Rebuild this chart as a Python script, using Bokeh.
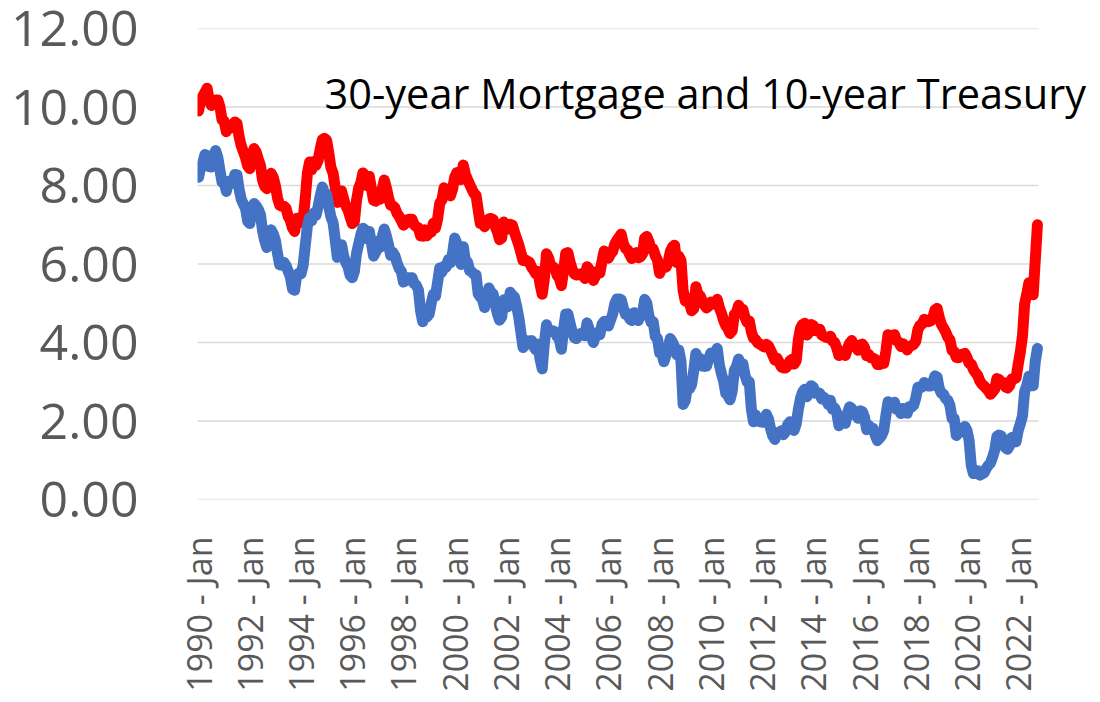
from bokeh.plotting import figure
from bokeh.models import Range1d, FixedTicker, Label, NumeralTickFormatter
from bokeh.embed import file_html
from bokeh.resources import INLINE
import math

# Monthly values, Jan 1990 - Oct 2022
mortgage_30y = [
    9.90, 10.20, 10.27, 10.37, 10.48, 10.16, 10.04, 10.10, 10.18, 10.18, 10.01, 9.67,
    9.64, 9.37, 9.50, 9.49, 9.47, 9.62, 9.58, 9.24, 9.01, 8.86, 8.71, 8.50,
    8.43, 8.76, 8.94, 8.85, 8.67, 8.51, 8.13, 7.98, 7.92, 8.09, 8.31, 8.21,
    7.99, 7.68, 7.50, 7.47, 7.47, 7.42, 7.21, 7.11, 6.92, 6.83, 7.16, 7.17,
    7.06, 7.15, 7.68, 8.32, 8.60, 8.40, 8.61, 8.51, 8.64, 8.93, 9.17, 9.20,
    9.15, 8.83, 8.46, 8.32, 7.96, 7.57, 7.61, 7.86, 7.64, 7.48, 7.38, 7.20,
    7.03, 7.08, 7.62, 7.93, 8.07, 8.32, 8.25, 8.00, 8.23, 7.92, 7.62, 7.60,
    7.82, 7.65, 7.90, 8.14, 7.94, 7.69, 7.50, 7.48, 7.43, 7.29, 7.21, 7.10,
    6.99, 7.04, 7.13, 7.14, 7.14, 7.00, 6.95, 6.92, 6.72, 6.71, 6.87, 6.72,
    6.79, 6.81, 7.04, 6.92, 7.15, 7.55, 7.63, 7.94, 7.82, 7.85, 7.74, 7.91,
    8.21, 8.33, 8.24, 8.15, 8.52, 8.29, 8.15, 8.03, 7.91, 7.80, 7.75, 7.38,
    7.03, 7.05, 6.95, 7.08, 7.15, 7.16, 7.13, 6.95, 6.82, 6.62, 6.66, 7.07,
    7.00, 6.89, 7.01, 6.99, 6.81, 6.65, 6.49, 6.29, 6.09, 6.11, 6.07, 6.05,
    5.92, 5.84, 5.75, 5.81, 5.48, 5.23, 5.63, 6.26, 6.15, 5.95, 5.93, 5.88,
    5.71, 5.64, 5.45, 5.83, 6.27, 6.29, 6.06, 5.87, 5.75, 5.72, 5.73, 5.75,
    5.71, 5.63, 5.93, 5.86, 5.72, 5.58, 5.70, 5.82, 5.77, 6.07, 6.33, 6.27,
    6.15, 6.25, 6.32, 6.51, 6.60, 6.68, 6.76, 6.52, 6.40, 6.36, 6.24, 6.14,
    6.22, 6.29, 6.16, 6.18, 6.26, 6.66, 6.70, 6.57, 6.38, 6.38, 6.21, 6.10,
    5.76, 5.92, 5.97, 5.92, 6.04, 6.32, 6.43, 6.48, 6.04, 6.20, 6.09, 5.33,
    5.06, 5.13, 5.00, 4.81, 4.86, 5.42, 5.22, 5.19, 5.06, 4.95, 4.88, 4.93,
    5.03, 4.99, 4.97, 5.10, 4.89, 4.74, 4.56, 4.43, 4.35, 4.23, 4.30, 4.71,
    4.76, 4.95, 4.84, 4.84, 4.64, 4.51, 4.55, 4.27, 4.11, 4.07, 3.99, 3.96,
    3.92, 3.89, 3.95, 3.91, 3.80, 3.68, 3.55, 3.60, 3.50, 3.38, 3.35, 3.35,
    3.41, 3.53, 3.57, 3.45, 3.54, 4.07, 4.37, 4.46, 4.49, 4.19, 4.26, 4.46,
    4.43, 4.30, 4.34, 4.34, 4.19, 4.16, 4.13, 4.12, 4.16, 4.04, 4.00, 3.86,
    3.67, 3.71, 3.77, 3.67, 3.84, 3.98, 4.05, 3.91, 3.89, 3.80, 3.94, 3.96,
    3.87, 3.66, 3.69, 3.61, 3.60, 3.57, 3.44, 3.44, 3.46, 3.47, 3.77, 4.20,
    4.15, 4.17, 4.20, 4.05, 4.01, 3.90, 3.97, 3.88, 3.81, 3.90, 3.92, 3.95,
    4.03, 4.33, 4.44, 4.47, 4.59, 4.57, 4.53, 4.55, 4.63, 4.83, 4.87, 4.64,
    4.46, 4.37, 4.27, 4.14, 4.07, 3.80, 3.77, 3.62, 3.61, 3.69, 3.70, 3.72,
    3.62, 3.47, 3.45, 3.31, 3.23, 3.16, 3.02, 2.94, 2.89, 2.83, 2.77, 2.68,
    2.74, 2.81, 3.08, 3.06, 2.96, 2.98, 2.87, 2.84, 2.90, 3.07, 3.07, 3.10,
    3.45, 3.76, 4.17, 4.98, 5.23, 5.52, 5.41, 5.22, 6.11, 7.00,
]

treasury_10y = [
    8.21, 8.47, 8.59, 8.79, 8.76, 8.48, 8.47, 8.75, 8.89, 8.72, 8.39, 8.08,
    8.09, 7.85, 8.11, 8.04, 8.07, 8.28, 8.27, 7.90, 7.65, 7.53, 7.42, 7.09,
    7.03, 7.34, 7.54, 7.48, 7.39, 7.26, 6.84, 6.59, 6.42, 6.59, 6.87, 6.77,
    6.60, 6.26, 5.98, 5.97, 6.04, 5.96, 5.81, 5.68, 5.36, 5.33, 5.72, 5.77,
    5.75, 5.97, 6.48, 6.97, 7.18, 7.10, 7.30, 7.24, 7.46, 7.74, 7.96, 7.81,
    7.78, 7.47, 7.20, 7.06, 6.63, 6.17, 6.28, 6.49, 6.20, 6.04, 5.93, 5.71,
    5.65, 5.81, 6.27, 6.51, 6.74, 6.91, 6.87, 6.64, 6.83, 6.53, 6.20, 6.30,
    6.58, 6.42, 6.69, 6.89, 6.71, 6.49, 6.22, 6.30, 6.21, 6.03, 5.88, 5.81,
    5.54, 5.57, 5.65, 5.64, 5.65, 5.50, 5.46, 5.34, 4.81, 4.53, 4.83, 4.65,
    4.72, 5.00, 5.23, 5.18, 5.54, 5.90, 5.79, 5.94, 5.92, 6.11, 6.03, 6.28,
    6.66, 6.52, 6.26, 5.99, 6.44, 6.10, 6.05, 5.83, 5.80, 5.74, 5.72, 5.24,
    5.16, 5.10, 4.89, 5.14, 5.39, 5.28, 5.24, 4.97, 4.73, 4.57, 4.65, 5.09,
    5.04, 4.91, 5.28, 5.21, 5.16, 4.93, 4.65, 4.26, 3.87, 3.94, 4.05, 4.03,
    4.05, 3.90, 3.81, 3.96, 3.57, 3.33, 3.98, 4.45, 4.27, 4.29, 4.30, 4.27,
    4.15, 4.08, 3.83, 4.35, 4.72, 4.73, 4.50, 4.28, 4.13, 4.10, 4.19, 4.23,
    4.22, 4.17, 4.50, 4.34, 4.14, 4.00, 4.18, 4.26, 4.20, 4.46, 4.54, 4.47,
    4.42, 4.57, 4.72, 4.99, 5.11, 5.11, 5.09, 4.88, 4.72, 4.73, 4.60, 4.56,
    4.76, 4.72, 4.56, 4.69, 4.75, 5.10, 5.00, 4.67, 4.52, 4.53, 4.15, 4.10,
    3.74, 3.74, 3.51, 3.68, 3.88, 4.10, 4.01, 3.89, 3.69, 3.81, 3.53, 2.42,
    2.52, 2.87, 2.82, 2.93, 3.29, 3.72, 3.56, 3.59, 3.40, 3.39, 3.40, 3.59,
    3.73, 3.69, 3.73, 3.85, 3.42, 3.20, 3.01, 2.70, 2.65, 2.54, 2.76, 3.29,
    3.39, 3.58, 3.41, 3.46, 3.17, 3.00, 3.00, 2.30, 1.98, 2.15, 2.01, 1.98,
    1.97, 1.97, 2.17, 2.05, 1.80, 1.62, 1.53, 1.68, 1.72, 1.75, 1.65, 1.72,
    1.91, 1.98, 1.96, 1.76, 1.93, 2.30, 2.58, 2.74, 2.81, 2.62, 2.72, 2.90,
    2.86, 2.71, 2.72, 2.71, 2.56, 2.60, 2.54, 2.42, 2.53, 2.30, 2.33, 2.21,
    1.88, 1.98, 2.04, 1.94, 2.20, 2.36, 2.32, 2.17, 2.17, 2.07, 2.26, 2.24,
    2.09, 1.78, 1.89, 1.81, 1.81, 1.64, 1.50, 1.56, 1.63, 1.76, 2.14, 2.49,
    2.43, 2.42, 2.48, 2.30, 2.30, 2.19, 2.32, 2.21, 2.20, 2.36, 2.35, 2.40,
    2.58, 2.86, 2.84, 2.87, 2.98, 2.91, 2.89, 2.89, 3.00, 3.15, 3.12, 2.83,
    2.71, 2.68, 2.57, 2.53, 2.40, 2.07, 2.06, 1.63, 1.70, 1.71, 1.81, 1.86,
    1.76, 1.50, 0.87, 0.66, 0.67, 0.73, 0.62, 0.65, 0.68, 0.79, 0.87, 0.93,
    1.08, 1.26, 1.61, 1.64, 1.62, 1.52, 1.32, 1.28, 1.37, 1.58, 1.56, 1.47,
    1.76, 1.93, 2.13, 2.75, 2.90, 3.14, 2.90, 2.90, 3.52, 3.85,
]

tick_labels = ["1990 - Jan", "1992 - Jan", "1994 - Jan", "1996 - Jan", "1998 - Jan",
               "2000 - Jan", "2002 - Jan", "2004 - Jan", "2006 - Jan", "2008 - Jan",
               "2010 - Jan", "2012 - Jan", "2014 - Jan", "2016 - Jan", "2018 - Jan",
               "2020 - Jan", "2022 - Jan"]
y_ticks = [0, 2, 4, 6, 8, 10, 12]
title_text = "30-year Mortgage and 10-year Treasury"

n = len(mortgage_30y)
months = list(range(n))
tick_pos = [i * 24 for i in range(len(tick_labels))]

FONT = "Open Sans"

# plot frame: months occupy 841 px; frame extended to the right so the title fits
px_per_month = 841 / n
frame_w = 895
p = figure(width=1092, height=694, output_backend="svg", toolbar_location=None,
           x_range=Range1d(-0.5, -0.5 + frame_w / px_per_month), y_range=Range1d(0, 12),
           min_border_left=197, min_border_right=0, min_border_top=28,
           min_border_bottom=184)
p.outline_line_color = None
p.background_fill_color = "white"
p.border_fill_color = "white"

p.xgrid.grid_line_color = None
p.ygrid.grid_line_color = None

# horizontal gridlines spanning the category area only
p.segment(x0=[-0.5] * len(y_ticks), x1=[n - 0.5] * len(y_ticks), y0=y_ticks, y1=y_ticks,
          line_color="#D9D9D9", line_width=1.5)

p.yaxis.ticker = FixedTicker(ticks=y_ticks)
p.yaxis.formatter = NumeralTickFormatter(format="0.00")
p.yaxis.axis_line_color = None
p.yaxis.major_tick_line_color = None
p.yaxis.minor_tick_line_color = None
p.yaxis.major_label_text_font = FONT
p.yaxis.major_label_text_font_size = "50px"
p.yaxis.major_label_text_color = "#595959"
p.yaxis.major_label_standoff = 53

p.xaxis.ticker = FixedTicker(ticks=tick_pos)
p.xaxis.major_label_overrides = {pos: lab for pos, lab in zip(tick_pos, tick_labels)}
p.xaxis.major_label_orientation = math.pi / 2
p.xaxis.axis_line_color = None
p.xaxis.major_tick_line_color = None
p.xaxis.minor_tick_line_color = None
p.xaxis.major_label_text_font = FONT
p.xaxis.major_label_text_font_size = "34px"
p.xaxis.major_label_text_color = "#595959"
p.xaxis.major_label_standoff = 31

p.line(months, mortgage_30y, line_color="#FF0000", line_width=11,
       line_join="round", line_cap="round")
p.line(months, treasury_10y, line_color="#4472C4", line_width=11,
       line_join="round", line_cap="round")

p.add_layout(Label(x=59, y=10.35, text=title_text, text_font=FONT,
                   text_font_size="41.5px", text_color="black",
                   text_baseline="alphabetic"))

open("out.html", "w").write(file_html(p, INLINE))
